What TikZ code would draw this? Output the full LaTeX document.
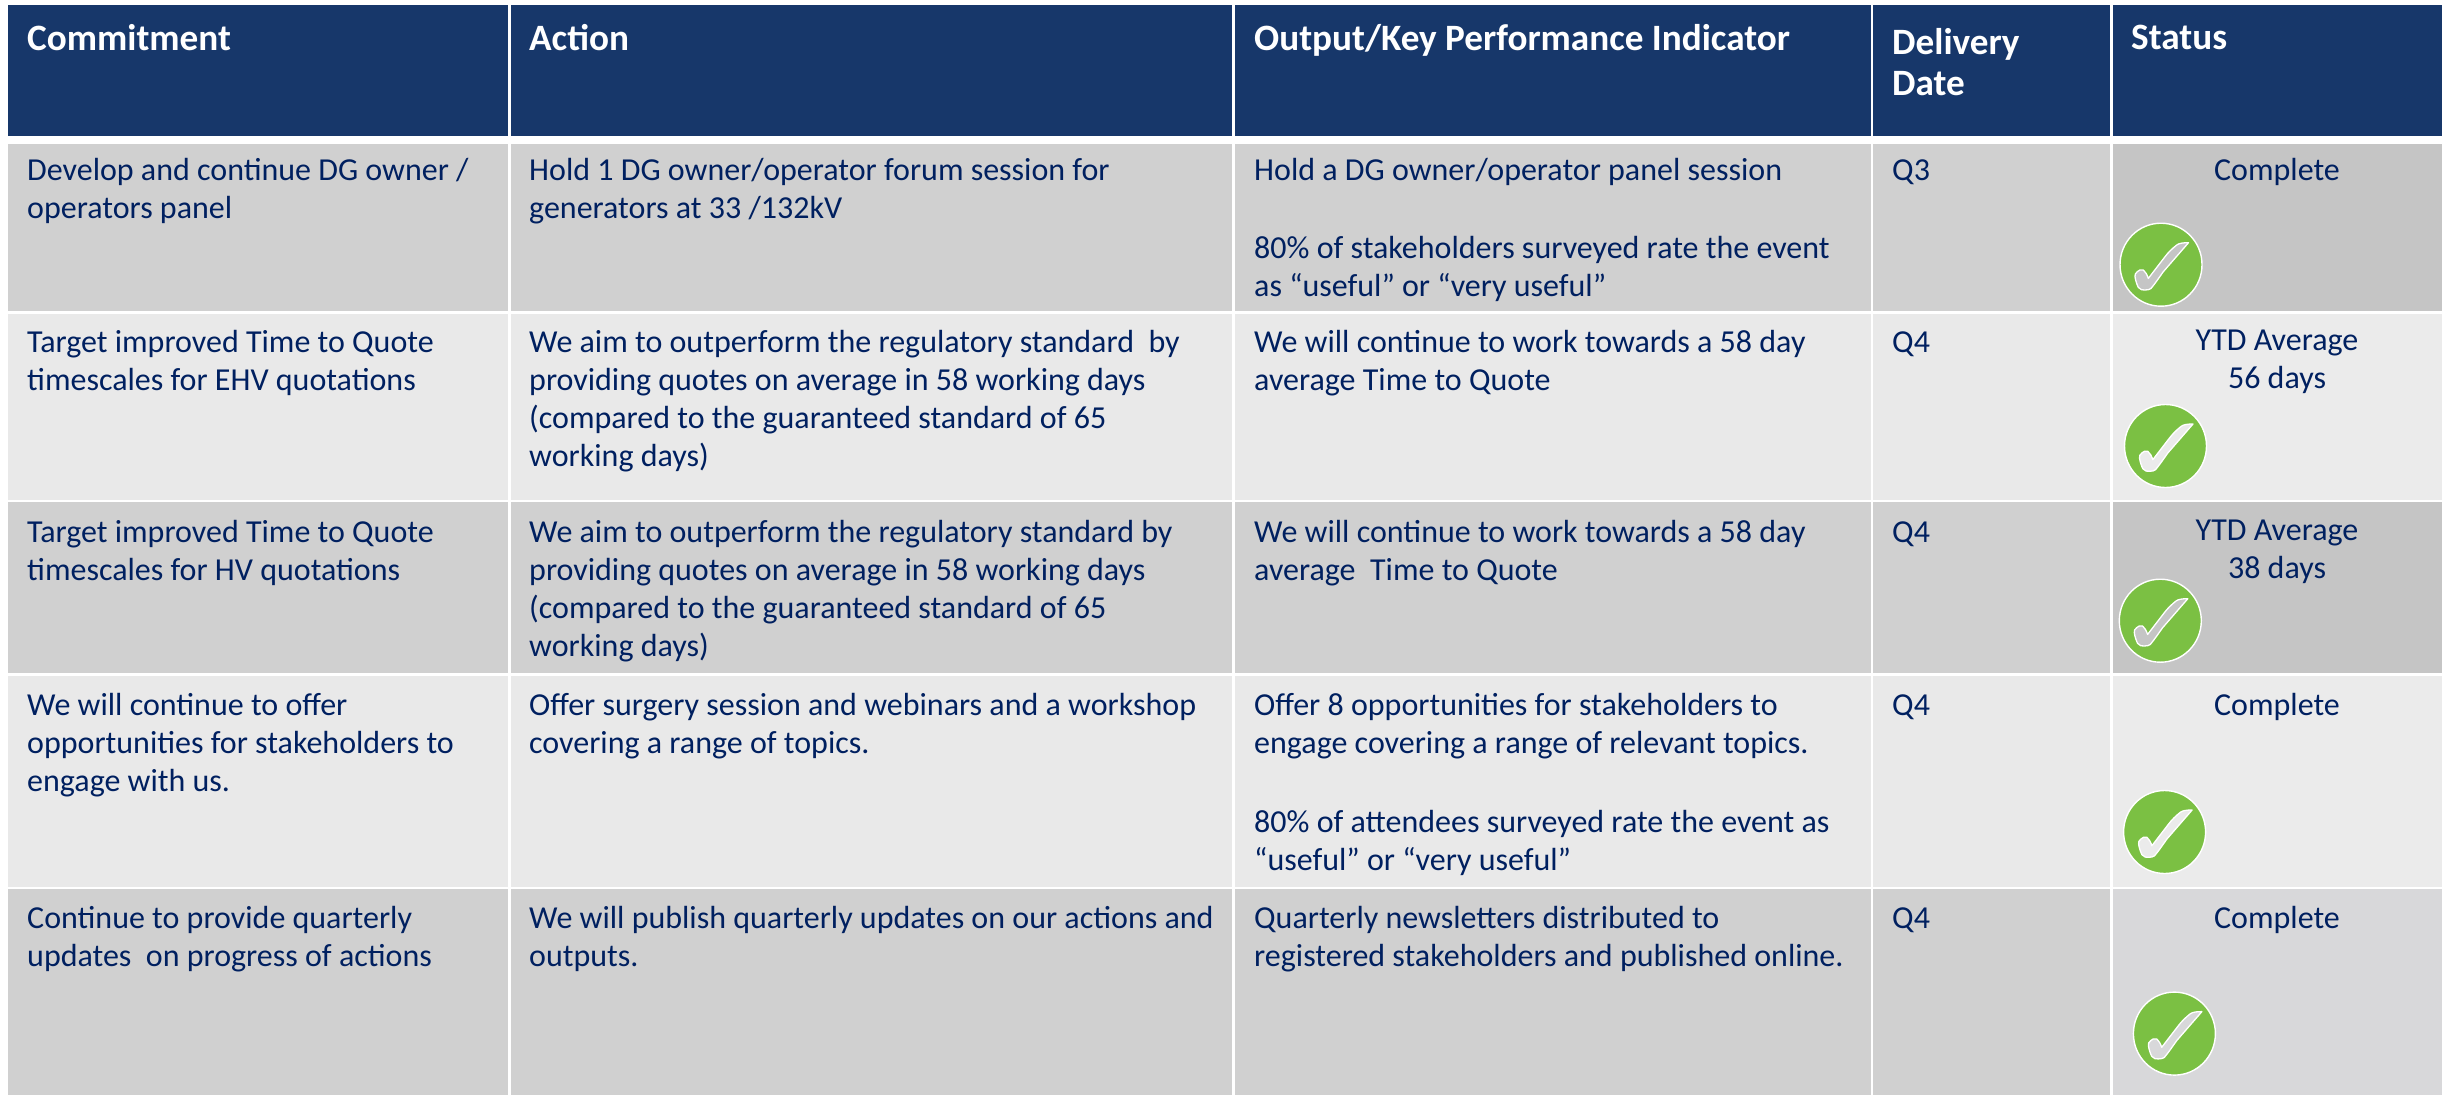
\documentclass[tikz,border=0pt]{standalone}
\usepackage{fontspec}
\setmainfont{Carlito}
\usetikzlibrary{shapes.geometric}
\definecolor{headblue}{HTML}{17376A}
\definecolor{inknavy}{HTML}{002060}
\definecolor{rowdark}{HTML}{D0D0D0}
\definecolor{rowlight}{HTML}{E9E9E9}
\definecolor{statdark}{HTML}{C5C5C5}
\definecolor{statmid}{HTML}{D8D8DA}
\definecolor{statlight}{HTML}{EBEBEB}
\definecolor{okgreen}{HTML}{7BC043}
\newcommand{\firstline}{\rule{0pt}{25pt}}
\tikzset{
  x=1pt,y=-1pt,
  textbase/.style={inner sep=0pt,yshift=25pt,execute at begin node=\firstline},
  head/.style={textbase,anchor=north west,align=left,text=white,font=\fontsize{37.2}{41}\selectfont\bfseries},
  body/.style={textbase,anchor=north west,align=left,text=inknavy,font=\fontsize{32}{38}\selectfont},
  stat/.style={textbase,anchor=north,align=center,text=inknavy,font=\fontsize{32}{38}\selectfont},
  multi/.style={yshift=-3.2pt},
  okdot/.style={ellipse,draw=white,line width=1.4pt,fill=okgreen,minimum width=82pt,minimum height=83pt,inner sep=0pt},
  ticksign/.style={draw=white,line width=1.3pt,line join=round},
  pics/okmark/.style={code={
    \node[okdot] (-dot) at (0,0) {};
    \path[ticksign,fill=#1] (27.5,-22) .. controls (22,-22) and (18,-21.5) .. (15.7,-19.7)
      .. controls (11,-16) and (7,-12) .. (4,-8) -- (-12.7,13.7)
      .. controls (-14,10) and (-15.5,7) .. (-17.7,5.3)
      .. controls (-20,4.5) and (-22.5,5.5) .. (-23.7,7)
      .. controls (-25.5,8.5) and (-26.5,10) .. (-26,12)
      .. controls (-25.5,16) and (-24,20) .. (-22.7,22.7)
      .. controls (-21,25) and (-18,25.8) .. (-16,25.3)
      .. controls (-13,25.3) and (-11.5,24.8) .. (-10,23.7)
      .. controls (-6,19) and (-2,13) .. (2.3,7) -- cycle;
  }}
}
\begin{document}
\begin{tikzpicture}
\useasboundingbox (0,0) rectangle (2453,1096);
\fill[white] (0,0) rectangle (2453,1096);
% header band
\foreach \xa/\xb in {8/508,510.5/1232.2,1234.7/1871,1873/2110.3,2112.8/2442}{
  \fill[headblue] (\xa,5) rectangle (\xb,135.7);
}
% body rows
\foreach \ya/\yb/\rowc/\statc in {143.7/311/rowdark/statdark,313.7/500.3/rowlight/statlight,502.3/672.7/rowdark/statdark,675.7/887/rowlight/statlight,889/1095/rowdark/statmid}{
  \foreach \xa/\xb in {8/508,510.5/1232.2,1234.7/1871,1873/2110.3}{
    \fill[\rowc] (\xa,\ya) rectangle (\xb,\yb);
  }
  \fill[\statc] (2112.8,\ya) rectangle (2442,\yb);
}
% header text
\node[head] (h1) at (27,49) {Commitment};
\node[head] (h2) at (529,49) {Action};
\node[head] (h3) at (1254,49) {Output/Key Performance Indicator};
\node[head,multi] (h4) at (1892,50) {Delivery\\Date};
\node[head] (h5) at (2131,49) {Status};
% row 1
\node[body,multi] (a1) at (27,180) {Develop and continue DG owner /\\operators panel};
\node[body,multi] (b1) at (529,180) {Hold 1 DG owner/operator forum session for\\generators at 33 /132kV};
\node[body,multi] (c1) at (1254,180) {Hold a DG owner/operator panel session\\[39.5pt]80\% of stakeholders surveyed rate the event\\as “useful” or “very useful”};
\node[body] (d1) at (1892,180) {Q3};
\node[stat] (e1) at (2277,180) {Complete};
% row 2
\node[body,multi] (a2) at (27,352) {Target improved Time to Quote\\timescales for EHV quotations};
\node[body,multi] (b2) at (529,352) {We aim to outperform the regulatory standard\ \ by\\providing quotes on average in 58 working days\\(compared to the guaranteed standard of 65\\working days)};
\node[body,multi] (c2) at (1254,352) {We will continue to work towards a 58 day\\average Time to Quote};
\node[body] (d2) at (1892,352.7) {Q4};
\node[stat,multi] (e2) at (2277,352) {YTD Average\\56 days};
% row 3
\node[body,multi] (a3) at (27,541.7) {Target improved Time to Quote\\timescales for HV quotations};
\node[body,multi] (b3) at (529,541.7) {We aim to outperform the regulatory standard by\\providing quotes on average in 58 working days\\(compared to the guaranteed standard of 65\\working days)};
\node[body,multi] (c3) at (1254,541.7) {We will continue to work towards a 58 day\\average\ \ Time to Quote};
\node[body] (d3) at (1892,542.5) {Q4};
\node[stat,multi] (e3) at (2277,541.7) {YTD Average\\38 days};
% row 4
\node[body,multi] (a4) at (27,715) {We will continue to offer\\opportunities for stakeholders to\\engage with us.};
\node[body,multi] (b4) at (529,715) {Offer surgery session and webinars and a workshop\\covering a range of topics.};
\node[body,multi] (c4) at (1254,715) {Offer 8 opportunities for stakeholders to\\engage covering a range of relevant topics.\\[40.5pt]80\% of attendees surveyed rate the event as\\“useful” or “very useful”};
\node[body] (d4) at (1892,715) {Q4};
\node[stat] (e4) at (2277,715) {Complete};
% row 5
\node[body,multi] (a5) at (27,928) {Continue to provide quarterly\\updates\ \ on progress of actions};
\node[body,multi] (b5) at (529,928) {We will publish quarterly updates on our actions and\\outputs.};
\node[body,multi] (c5) at (1254,928) {Quarterly newsletters distributed to\\registered stakeholders and published online.};
\node[body] (d5) at (1892,928) {Q4};
\node[stat] (e5) at (2277,928) {Complete};
% status marks
\pic (m1) at (2161,264.7) {okmark=statdark};
\pic (m2) at (2165.5,446) {okmark=statlight};
\pic (m3) at (2160.3,620.7) {okmark=statdark};
\pic (m4) at (2164.6,832) {okmark=statlight};
\pic (m5) at (2174.4,1033.6) {okmark=statmid};
\end{tikzpicture}
\end{document}
